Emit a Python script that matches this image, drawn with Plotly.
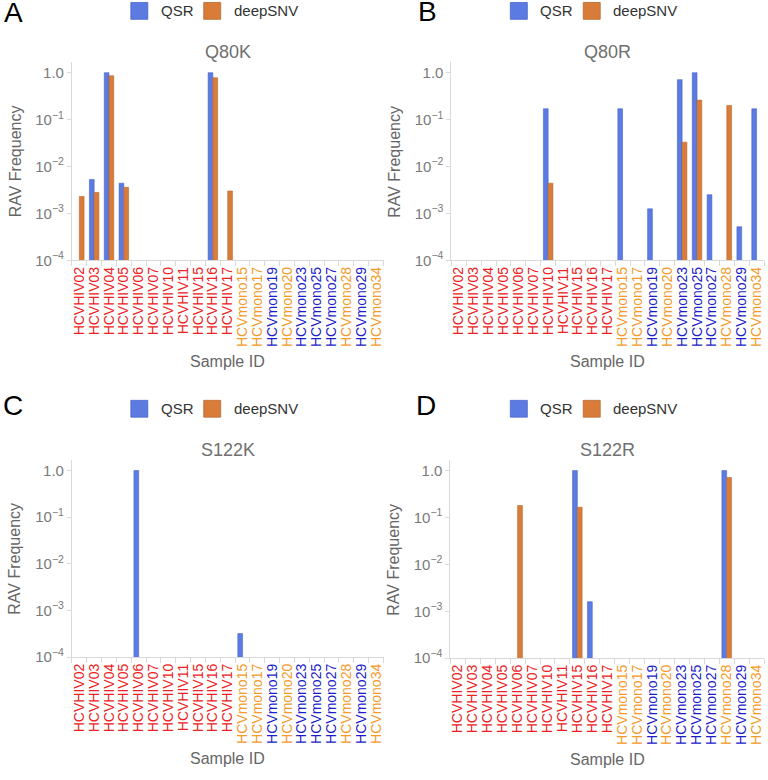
import plotly.graph_objects as go

samples = ["HCVHIV02", "HCVHIV03", "HCVHIV04", "HCVHIV05", "HCVHIV06", "HCVHIV07",
           "HCVHIV10", "HCVHIV11", "HCVHIV15", "HCVHIV16", "HCVHIV17",
           "HCVmono15", "HCVmono17", "HCVmono19", "HCVmono20", "HCVmono23",
           "HCVmono25", "HCVmono27", "HCVmono28", "HCVmono29", "HCVmono34"]
label_colors = ["#ec2222"] * 11 + ["#f39a2b", "#f39a2b", "#1c1cc8", "#f39a2b", "#1c1cc8",
                                   "#1c1cc8", "#1c1cc8", "#f39a2b", "#1c1cc8", "#f39a2b"]

N = None
# Q80K
q80k_qsr = [N, 0.0053, 1.0, 0.0044, N, N, N, N, N, 1.0, N, N, N, N, N, N, N, N, N, N, N]
q80k_deep = [0.0023, 0.0028, 0.86, 0.0036, N, N, N, N, N, 0.78, 0.0030, N, N, N, N, N, N, N, N, N, N]
# Q80R
q80r_qsr = [N, N, N, N, N, N, 0.17, N, N, N, N, 0.17, N, 0.00125, N, 0.71, 1.0, 0.0025, N, 0.00052, 0.17]
q80r_deep = [N, N, N, N, N, N, 0.0044, N, N, N, N, N, N, N, N, 0.033, 0.26, N, 0.20, N, N]
# S122K
s122k_qsr = [N, N, N, N, 1.0, N, N, N, N, N, N, 0.00032, N, N, N, N, N, N, N, N, N]
s122k_deep = [N] * 21
# S122R
s122r_qsr = [N, N, N, N, N, N, N, N, 1.0, 0.0016, N, N, N, N, N, N, N, N, 1.0, N, N]
s122r_deep = [N, N, N, N, 0.18, N, N, N, 0.165, N, N, N, N, N, N, N, N, N, 0.71, N, N]

panels = [
    ("A", "Q80K", q80k_qsr, q80k_deep),
    ("B", "Q80R", q80r_qsr, q80r_deep),
    ("C", "S122K", s122k_qsr, s122k_deep),
    ("D", "S122R", s122r_qsr, s122r_deep),
]

W, H = 768, 780
QSR_COL = "#5b7be3"
DEEP_COL = "#d97c3a"
FONT = "Liberation Sans, Arial"

# panel geometry in pixels: (x0, x1, ytop, ybottom)
geom = [
    (71, 383, 63, 263),
    (451, 764, 63, 263),
    (71, 383, 465, 664),
    (450, 764, 465, 665),
]
legend_x = [130, 510, 130, 510]
legend_y = [11, 11, 413, 413]
letter_pos = [(1, 13), (416, 12), (0, 410), (414, 410)]

ticktext = [f"<span style='color:{c}'>{s}</span>" for s, c in zip(samples, label_colors)]

fig = go.Figure()
annotations = []
shapes = []

for i, (letter, title, qsr, deep) in enumerate(panels):
    n = "" if i == 0 else str(i + 1)
    x0, x1, yt, yb = geom[i]
    fig.add_trace(go.Bar(x=samples, y=qsr, name="QSR",
                         marker=dict(color=QSR_COL, line=dict(color="#4a66c8", width=0.6)),
                         xaxis="x" + n, yaxis="y" + n, showlegend=False))
    fig.add_trace(go.Bar(x=samples, y=deep, name="deepSNV",
                         marker=dict(color=DEEP_COL, line=dict(color="#b8682e", width=0.6)),
                         xaxis="x" + n, yaxis="y" + n, showlegend=False))
    fig.layout["xaxis" + n] = dict(
        domain=[x0 / W, x1 / W], anchor="y" + n, type="category",
        tickmode="array", tickvals=samples, ticktext=ticktext, tickangle=-90,
        tickfont=dict(family=FONT, size=14),
        showline=True, linecolor="#d9d9d9", linewidth=1,
        ticks="outside", tickson="boundaries", ticklen=5, tickcolor="#d9d9d9",
        showgrid=False, zeroline=False, fixedrange=True,
    )
    fig.layout["yaxis" + n] = dict(
        domain=[1 - yb / H, 1 - yt / H], anchor="x" + n, type="log", range=[-4, 0.22],
        tickmode="array", tickvals=[1e-4, 1e-3, 1e-2, 1e-1, 1],
        ticktext=["10<sup>−4</sup>", "10<sup>−3</sup>", "10<sup>−2</sup>", "10<sup>−1</sup>", "1.0"],
        tickfont=dict(family=FONT, size=15, color="#7a7a7a"),
        showline=True, linecolor="#d9d9d9", linewidth=1,
        ticks="outside", ticklen=4, tickcolor="#d9d9d9",
        showgrid=False, zeroline=False, fixedrange=True,
    )
    # panel title
    annotations.append(dict(text=title, x=(x0 + x1) / 2 / W, y=1 - (yt - 10) / H, xref="paper", yref="paper",
                            showarrow=False, font=dict(family=FONT, size=18, color="#707070"),
                            xanchor="center", yanchor="middle"))
    # axis titles
    annotations.append(dict(text="RAV Frequency", x=(x0 - 57) / W, y=1 - (yt + yb) / 2 / H,
                            xref="paper", yref="paper", showarrow=False, textangle=-90,
                            font=dict(family=FONT, size=16, color="#666666"),
                            xanchor="center", yanchor="middle"))
    annotations.append(dict(text="Sample ID", x=(x0 + x1) / 2 / W, y=1 - (yb + 102) / H,
                            xref="paper", yref="paper", showarrow=False,
                            font=dict(family=FONT, size=16, color="#666666"),
                            xanchor="center", yanchor="middle"))
    # panel letter
    lx, ly = letter_pos[i]
    annotations.append(dict(text=letter, x=lx / W, y=1 - ly / H, xref="paper", yref="paper", showarrow=False,
                            font=dict(family=FONT, size=28, color="black"),
                            xanchor="left", yanchor="middle"))
    # legend
    gx, gy = legend_x[i], legend_y[i]
    for j, (name, col, lc) in enumerate([("QSR", QSR_COL, "#4a66c8"), ("deepSNV", DEEP_COL, "#b8682e")]):
        sx = gx + j * 73
        shapes.append(dict(type="rect", xref="paper", yref="paper",
                           x0=sx / W, x1=(sx + 17) / W, y0=1 - (gy - 8.5) / H, y1=1 - (gy + 8.5) / H,
                           fillcolor=col, line=dict(color=lc, width=0.8)))
        annotations.append(dict(text=name, x=(sx + 28) / W, y=1 - gy / H, xref="paper", yref="paper",
                                showarrow=False, xanchor="left", yanchor="middle",
                                font=dict(family=FONT, size=15, color="#333333")))

fig.update_layout(
    width=W, height=H, margin=dict(l=0, r=0, t=0, b=0),
    paper_bgcolor="white", plot_bgcolor="white",
    barmode="group", bargap=0.36, bargroupgap=0.0,
    annotations=annotations, shapes=shapes, showlegend=False,
)

fig.write_html("out.html", config={"displayModeBar": False},
               post_script="document.body.style.margin='0px';document.body.style.overflow='hidden';")
